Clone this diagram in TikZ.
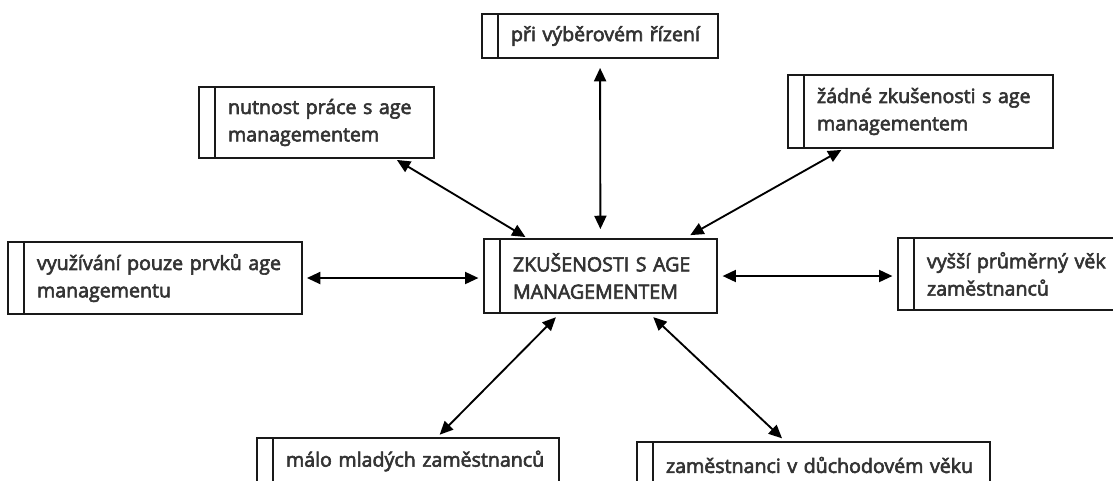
\documentclass[tikz,border=0pt]{standalone}
\usepackage{fontspec}
\setmainfont{Open Sans}
\newfontfamily\boxfont{Open Sans}[FakeBold=3]
\usetikzlibrary{arrows.meta}
\begin{document}
\begin{tikzpicture}[x=0.75pt, y=-0.75pt,
    every node/.style={font=\boxfont\fontsize{14.7}{20.5}\selectfont, text=black!80},
    box/.style={draw=black!90, line width=1.4pt, inner sep=0pt, align=left,
        execute at begin node={\leftskip=21.75pt}},
    link/.style={{Triangle[length=10pt,width=9pt]}-{Triangle[length=10pt,width=9pt]}, line width=1.4pt}]
    \useasboundingbox (0,0) rectangle (1113,480);
    % centre
    \node[box, text width=174.75pt, minimum height=55.5pt] (ctr) at (600.5,276) {ZKUŠENOSTI S AGE\\MANAGEMENTEM};
    % outer boxes
    \node[box, text width=177pt, minimum height=33pt] (top) at (600,36) {při výběrovém řízení};
    \node[box, text width=176.25pt, minimum height=53.25pt] (ul) at (316.5,122.5) {nutnost práce s age\\managementem};
    \node[box, text width=198.75pt, minimum height=54.75pt] (ur) at (920.5,111.5) {žádné zkušenosti s age\\managementem};
    \node[box, text width=220.5pt, minimum height=54pt] (lft) at (155,278) {využívání pouze prvků age\\managementu};
    \node[box, text width=163.5pt, minimum height=54pt] (rgt) at (1007,274) {vyšší průměrný věk\\zaměstnanců};
    \node[box, text width=226.5pt, minimum height=34.5pt] (bl) at (408,461) {málo mladých zaměstnanců};
    \node[box, text width=264.75pt, minimum height=34.5pt] (br) at (813.5,465) {zaměstnanci v důchodovém věku};
    % narrow strip on the left of every box
    \foreach \n in {top,ul,ur,lft,ctr,rgt,bl,br}
        \draw[line width=1.4pt, draw=black!90] ([xshift=12.75pt]\n.north west) -- ([xshift=12.75pt]\n.south west);
    % arrows
    \draw[link, shorten <=6.75pt, shorten >=6.75pt] (top) -- (ctr);
    \draw[link, shorten <=1.5pt, shorten >=1.5pt] ([xshift=59pt]ul.south) -- ([xshift=-55pt]ctr.north);
    \draw[link, shorten <=1.5pt, shorten >=4.5pt] ([xshift=-58pt]ur.south) -- ([xshift=63.4pt]ctr.north);
    \draw[link, shorten <=3pt, shorten >=3.5pt] (lft.east) -- (lft.east -| ctr.west);
    \draw[link, shorten <=3.5pt, shorten >=3.5pt] (ctr.east) -- (ctr.east -| rgt.west);
    \draw[link, shorten <=3.5pt, shorten >=2.5pt] ([xshift=-31pt]ctr.south) -- ([xshift=22pt]bl.north);
    \draw[link, shorten <=3.5pt, shorten >=3pt] ([xshift=37pt]ctr.south) -- ([xshift=-21.4pt]br.north);
\end{tikzpicture}
\end{document}
